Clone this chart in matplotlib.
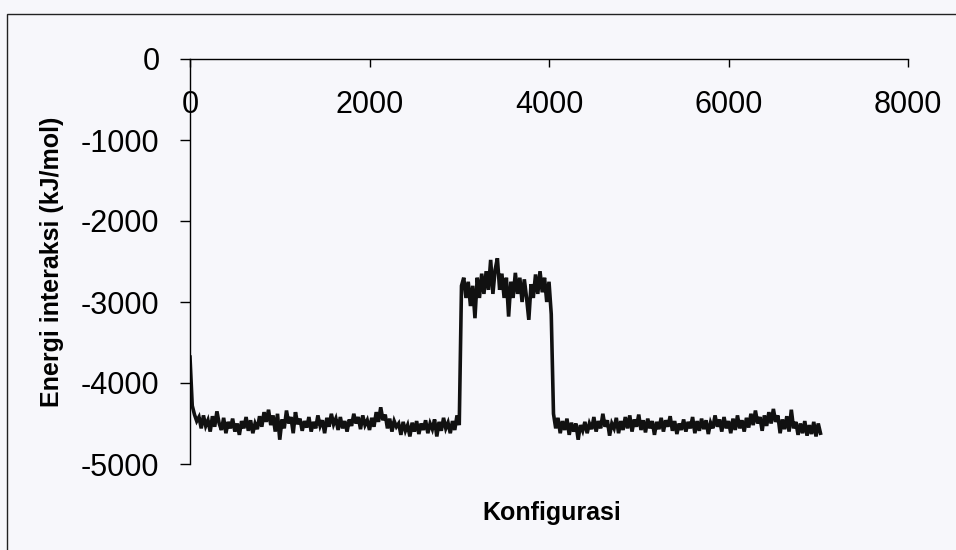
import numpy as np
import matplotlib
matplotlib.use('Agg')
import matplotlib.pyplot as plt
from matplotlib.patches import Rectangle

plt.rcParams['font.family'] = ['Liberation Sans', 'DejaVu Sans']

# energi interaksi, tiap 25 konfigurasi
langkah = 25
mulai_awal = 0
mulai_tinggi = 3025
mulai_akhir = 4050

energi_awal = [
    -3680, -4280, -4390, -4470, -4420, -4560, -4400, -4530, -4460, -4600,
    -4410, -4540, -4350, -4500, -4580, -4430, -4620, -4480, -4560, -4440,
    -4600, -4500, -4640, -4470, -4560, -4420, -4590, -4460, -4620, -4500,
    -4570, -4410, -4540, -4360, -4480, -4330, -4520, -4400, -4600, -4380,
    -4700, -4450, -4560, -4340, -4500, -4420, -4620, -4360, -4510, -4440,
    -4590, -4470, -4550, -4420, -4600, -4480, -4560, -4400, -4530, -4460,
    -4620, -4430, -4540, -4380, -4510, -4440, -4580, -4420, -4560, -4470,
    -4600, -4450, -4530, -4380, -4500, -4420, -4570, -4400, -4520, -4460,
    -4580, -4430, -4540, -4360, -4480, -4300, -4460, -4390, -4560, -4440,
    -4600, -4470, -4540, -4500, -4640, -4480, -4590, -4520, -4660, -4490,
    -4600, -4470, -4630, -4500, -4580, -4460, -4620, -4500, -4570, -4450,
    -4660, -4480, -4590, -4430, -4560, -4490, -4620, -4470, -4580, -4400,
    -4520,
]

energi_tinggi = [
    -2800, -2700, -2950, -2750, -3050, -2800, -3200, -2700, -2950, -2650,
    -2900, -2620, -2850, -2480, -2900, -2600, -2460, -2850, -2650, -2950,
    -2700, -3180, -2750, -2950, -2640, -2900, -2700, -3000, -2720, -2950,
    -3220, -2780, -2950, -2660, -2900, -2620, -2880, -2700, -3000, -2750,
    -3150,
]

energi_akhir = [
    -4380, -4560, -4430, -4620, -4470, -4580, -4440, -4640, -4490, -4600,
    -4500, -4700, -4520, -4590, -4480, -4620, -4500, -4570, -4420, -4600,
    -4470, -4560, -4380, -4540, -4460, -4650, -4500, -4560, -4430, -4620,
    -4470, -4580, -4420, -4560, -4400, -4600, -4450, -4540, -4390, -4580,
    -4460, -4610, -4440, -4560, -4470, -4640, -4480, -4570, -4430, -4600,
    -4460, -4540, -4410, -4590, -4470, -4630, -4500, -4580, -4450, -4600,
    -4480, -4560, -4420, -4620, -4470, -4590, -4440, -4570, -4460, -4630,
    -4490, -4560, -4400, -4540, -4450, -4600, -4420, -4560, -4470, -4620,
    -4440, -4580, -4400, -4560, -4460, -4600, -4430, -4550, -4380, -4520,
    -4340, -4500, -4420, -4590, -4400, -4530, -4360, -4500, -4320, -4480,
    -4400, -4620, -4450, -4570, -4410, -4600, -4330, -4560, -4480, -4640,
    -4500, -4620, -4470, -4650, -4520, -4630, -4480, -4660, -4500, -4620,
]

x_ticks = [0, 2000, 4000, 6000, 8000]
y_ticks = [0, -1000, -2000, -3000, -4000, -5000]

konfigurasi = np.concatenate([
    mulai_awal + langkah * np.arange(len(energi_awal)),
    mulai_tinggi + langkah * np.arange(len(energi_tinggi)),
    mulai_akhir + langkah * np.arange(len(energi_akhir)),
])
energi = np.array(energi_awal + energi_tinggi + energi_akhir)

fig = plt.figure(figsize=(9.56, 5.5), dpi=100, facecolor='#f7f7fb')
W, H = 956, 550
ax = fig.add_axes([190 / W, 1 - 464 / H, 718 / W, 405 / H])
ax.set_facecolor('none')

ax.plot(konfigurasi, energi, color='#111111', lw=2.6, solid_joinstyle='miter')

ax.set_xlim(0, 8000)
ax.set_ylim(-5000, 0)
ax.set_xticks(x_ticks)
ax.set_yticks(y_ticks)
ax.set_yticklabels([str(v) for v in y_ticks])

ax.spines['bottom'].set_visible(False)
ax.spines['right'].set_visible(False)
ax.spines['top'].set_linewidth(1.0)
ax.spines['left'].set_linewidth(1.0)

# sumbu x di atas (y=0), label di bawah garisnya
ax.tick_params(axis='x', bottom=False, labelbottom=False, top=True, labeltop=True,
               direction='in', length=6, width=1, pad=-44, labelsize=22)
ax.tick_params(axis='y', direction='out', length=7, width=1, pad=15, labelsize=22)

fig.text(52 / W, 1 - 262 / H, 'Energi interaksi (kJ/mol)', rotation=90,
         ha='center', va='center', fontsize=18, fontweight='bold')
fig.text(552 / W, 1 - 513 / H, 'Konfigurasi', ha='center', va='center',
         fontsize=18, fontweight='bold')

# bingkai luar chart
fig.patches.append(Rectangle((7 / W, -0.1), 1.2, 1.1 - 14 / H,
                             transform=fig.transFigure, fill=False,
                             edgecolor='#222222', lw=1.0))

fig.savefig('out.png', dpi=100, facecolor=fig.get_facecolor())
